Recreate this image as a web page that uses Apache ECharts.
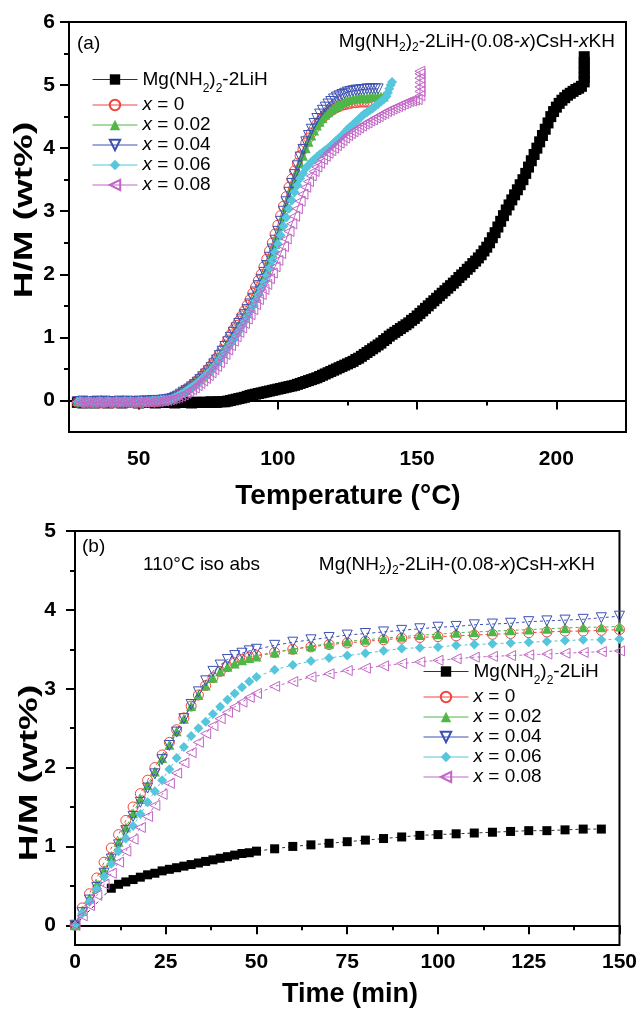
<!DOCTYPE html>
<html><head><meta charset="utf-8">
<script src="https://cdn.jsdelivr.net/npm/echarts@6/dist/echarts.min.js"></script>
<style>html,body{margin:0;padding:0;background:#fff}#c{width:640px;height:1010px}</style>
</head><body><div id="c"></div>
<script>
// ---------- Panel (a): temperature-programmed absorption (H/M wt% vs T, 1 °C grid) ----------
const tempA = [28,29,30,31,32,33,34,35,36,37,38,39,40,41,42,43,44,45,46,47,48,49,50,51,52,53,54,55,56,57,58,59,60,
 61,62,63,64,65,66,67,68,69,70,71,72,73,74,75,76,77,78,79,80,81,82,83,84,85,86,87,88,89,90,
 91,92,93,94,95,96,97,98,99,100,101,102,103,104,105,106,107,108,109,110,111,112,113,114,115,116,117,118,119,120,
 121,122,123,124,125,126,127,128,129,130,131,132,133,134,135,136,137,138,139,140,141,142,143,144,145,146,147,148,149,150,
 151,152,153,154,155,156,157,158,159,160,161,162,163,164,165,166,167,168,169,170,171,172,173,174,175,176,177,178,179,180,
 181,182,183,184,185,186,187,188,189,190,191,192,193,194,195,196,197,198,199,200,201,202,203,204,205,206,207,208,209,210];

const a_base = [-0.03,-0.03,-0.04,-0.03,-0.03,-0.03,-0.04,-0.03,-0.03,-0.03,-0.03,-0.04,-0.03,-0.03,-0.03,-0.03,-0.04,-0.03,-0.03,-0.03,-0.03,-0.03,-0.04,-0.03,-0.03,-0.03,-0.03,-0.03,-0.04,-0.03,-0.03,-0.03,-0.03,
 -0.03,-0.03,-0.04,-0.03,-0.03,-0.03,-0.03,-0.03,-0.04,-0.03,-0.03,-0.03,-0.03,-0.03,-0.03,-0.02,-0.03,-0.03,-0.02,-0.02,
 -0.02,-0.01,0,0.01,0.02,0.03,0.04,0.05,0.065,0.08,0.09,0.1,0.11,0.12,0.13,0.14,0.15,0.16,0.17,0.18,0.19,0.2,0.21,0.22,0.23,0.24,0.255,0.27,0.285,0.3,
 0.315,0.33,0.345,0.36,0.38,0.4,0.42,0.44,0.46,0.48,0.5,0.52,0.54,0.56,0.58,0.6,0.62,0.65,0.67,0.7,0.73,0.76,0.79,0.82,0.85,0.88,0.91,0.95,0.98,1.02,
 1.05,1.08,1.11,1.14,1.17,1.2,1.23,1.27,1.3,1.34,1.38,1.42,1.46,1.5,1.54,1.58,1.62,1.66,1.7,1.74,1.78,1.82,1.86,1.9,1.95,1.99,2.03,2.08,2.12,2.17,
 2.21,2.26,2.31,2.37,2.43,2.5,2.58,2.66,2.75,2.84,2.93,3.02,3.1,3.18,3.26,3.34,3.42,3.5,3.6,3.7,3.8,3.9,4.0,4.1,4.2,4.3,4.4,4.5,4.58,4.65,
 4.71,4.76,4.8,4.84,4.87,4.9,4.93,4.95,4.98];
const a_baseTail = [[210,5.05],[210,5.12],[210,5.2],[210,5.28],[210,5.36],[210,5.45]];

const a_x0 = [-0.03,-0.02,-0.03,-0.04,-0.03,-0.03,-0.02,-0.03,-0.04,-0.04,-0.03,-0.02,-0.03,-0.04,-0.03,-0.03,-0.02,-0.02,-0.03,-0.03,-0.02,-0.03,-0.04,-0.03,-0.02,-0.02,-0.02,-0.01,-0.02,-0.01,0,0,0.01,
 0.02,0.04,0.06,0.08,0.11,0.14,0.17,0.2,0.235,0.27,0.31,0.35,0.395,0.44,0.495,0.55,0.61,0.67,0.735,0.8,0.88,0.96,1.04,1.12,1.19,1.26,1.34,1.42,1.51,1.6,
 1.7,1.8,1.9,2.0,2.12,2.24,2.37,2.5,2.64,2.78,2.93,3.08,3.23,3.38,3.51,3.64,3.76,3.88,3.98,4.08,4.16,4.24,4.31,4.38,4.43,4.48,4.52,4.56,4.59,4.62,
 4.64,4.66,4.68,4.69,4.7,4.71,4.72,4.72,4.73,4.73,4.73,4.73,4.73,4.73];
const a_x002 = [-0.01,-0.02,-0.02,-0.01,-0.02,-0.02,-0.01,-0.02,-0.01,-0.02,-0.02,-0.01,-0.01,-0.02,-0.02,-0.01,-0.02,-0.01,-0.02,-0.01,-0.01,-0.02,-0.02,-0.01,-0.01,0,-0.01,0,0,0.01,0.01,0.01,0.02,
 0.03,0.04,0.065,0.09,0.12,0.15,0.18,0.21,0.245,0.28,0.315,0.35,0.39,0.43,0.48,0.53,0.585,0.64,0.7,0.76,0.83,0.9,0.97,1.04,1.11,1.18,1.25,1.32,1.4,1.48,
 1.57,1.66,1.76,1.86,1.97,2.08,2.21,2.34,2.48,2.62,2.77,2.92,3.07,3.22,3.36,3.5,3.63,3.76,3.88,4.0,4.1,4.2,4.28,4.36,4.42,4.48,4.53,4.57,4.61,4.64,
 4.67,4.7,4.72,4.74,4.76,4.77,4.78,4.79,4.8,4.8,4.8,4.8,4.81,4.81,4.81,4.81,4.82,4.82];
const a_x004 = [-0.02,-0.02,-0.01,-0.02,-0.02,-0.03,-0.02,-0.01,-0.02,-0.02,-0.01,-0.02,-0.03,-0.02,-0.02,-0.01,-0.02,-0.02,-0.01,-0.02,-0.02,-0.02,-0.01,-0.02,-0.01,-0.01,-0.01,0,0,0,0,0.01,0.01,
 0.02,0.03,0.05,0.07,0.1,0.13,0.155,0.18,0.215,0.25,0.29,0.33,0.375,0.42,0.47,0.52,0.58,0.64,0.71,0.78,0.855,0.93,1.0,1.08,1.15,1.22,1.29,1.36,1.44,1.53,
 1.62,1.72,1.82,1.92,2.03,2.14,2.27,2.4,2.54,2.68,2.84,3.0,3.15,3.3,3.44,3.58,3.72,3.86,3.98,4.1,4.2,4.3,4.39,4.47,4.54,4.6,4.65,4.7,4.74,4.78,
 4.81,4.83,4.85,4.87,4.89,4.9,4.91,4.92,4.92,4.93,4.93,4.94,4.94,4.94,4.94,4.94];
const a_x006 = [-0.02,-0.01,-0.02,-0.02,-0.01,-0.02,-0.02,-0.02,-0.01,-0.02,-0.02,-0.01,-0.02,-0.02,-0.01,-0.02,-0.02,-0.01,-0.02,-0.01,-0.02,-0.02,-0.01,-0.01,-0.02,-0.01,-0.01,0,0,0,0.01,0.01,0.01,
 0.015,0.03,0.05,0.07,0.095,0.12,0.15,0.18,0.21,0.24,0.275,0.31,0.35,0.39,0.435,0.48,0.53,0.58,0.64,0.7,0.765,0.83,0.895,0.96,1.03,1.1,1.175,1.25,1.33,1.41,
 1.495,1.58,1.675,1.77,1.87,1.98,2.1,2.22,2.35,2.48,2.62,2.76,2.9,3.04,3.17,3.3,3.41,3.52,3.6,3.68,3.73,3.78,3.82,3.86,3.9,3.93,3.965,4.0,4.04,4.08,
 4.12,4.16,4.2,4.25,4.3,4.34,4.38,4.42,4.46,4.5,4.54,4.57,4.6,4.63,4.67,4.7,4.74,4.77];
const a_x006Tail = [[139,4.82],[139.5,4.88],[140,4.94],[140.5,5.0],[141,5.05]];
const a_x008 = [-0.03,-0.04,-0.03,-0.03,-0.04,-0.04,-0.03,-0.03,-0.04,-0.03,-0.03,-0.04,-0.04,-0.03,-0.03,-0.04,-0.03,-0.03,-0.04,-0.04,-0.03,-0.03,-0.04,-0.03,-0.03,-0.02,-0.03,-0.02,-0.02,-0.02,-0.01,-0.01,0,
 0.01,0.02,0.035,0.05,0.07,0.09,0.115,0.14,0.17,0.2,0.235,0.27,0.31,0.35,0.395,0.44,0.49,0.54,0.6,0.66,0.73,0.8,0.87,0.94,1.01,1.08,1.15,1.22,1.29,1.36,
 1.44,1.52,1.6,1.68,1.76,1.84,1.93,2.02,2.12,2.22,2.33,2.44,2.56,2.68,2.8,2.92,3.04,3.16,3.27,3.38,3.47,3.56,3.63,3.7,3.76,3.82,3.87,3.92,3.96,4.0,
 4.04,4.08,4.12,4.16,4.2,4.23,4.26,4.29,4.32,4.35,4.38,4.4,4.43,4.45,4.48,4.5,4.53,4.55,4.58,4.6,4.62,4.64,4.66,4.68,4.7,4.72,4.74,4.75,4.76,4.77];
const a_x008Tail = [[151,4.83],[151,4.9],[151,4.97],[151,5.04],[151,5.11],[151,5.18],[151,5.22]];

// ---------- Panel (b): 110 °C isothermal absorption ----------
const timeB = [0,2,4,6,8,10,12,14,16,18,20,22,24,26,28,30,32,34,36,38,40,42,44,46,48,50,55,60,65,70,75,80,85,90,95,100,105,110,115,120,125,130,135,140,145,150];
const timeBbase = [0,10,12,14,16,18,20,22,24,26,28,30,32,34,36,38,40,42,44,46,48,50,55,60,65,70,75,80,85,90,95,100,105,110,115,120,125,130,135,140,145];
const b_base = [0,0.47,0.52,0.55,0.58,0.61,0.64,0.66,0.69,0.71,0.73,0.75,0.77,0.79,0.81,0.83,0.85,0.87,0.89,0.91,0.92,0.94,0.97,1.0,1.02,1.04,1.06,1.08,1.1,1.12,1.14,1.15,1.16,1.17,1.18,1.19,1.2,1.2,1.21,1.22,1.22];
const b_x0 = [0,0.22,0.4,0.6,0.8,0.98,1.15,1.33,1.5,1.67,1.84,2.0,2.16,2.32,2.48,2.63,2.78,2.92,3.04,3.14,3.22,3.28,3.33,3.37,3.4,3.42,3.46,3.5,3.53,3.56,3.58,3.6,3.62,3.64,3.65,3.66,3.67,3.68,3.69,3.7,3.71,3.72,3.73,3.73,3.74,3.75];
const b_x002 = [0,0.18,0.34,0.52,0.7,0.88,1.06,1.24,1.42,1.6,1.78,1.95,2.12,2.29,2.46,2.62,2.78,2.92,3.04,3.14,3.22,3.28,3.32,3.36,3.39,3.41,3.46,3.5,3.54,3.57,3.6,3.62,3.64,3.66,3.68,3.69,3.71,3.72,3.73,3.74,3.75,3.76,3.77,3.78,3.78,3.79];
const b_x004 = [0,0.16,0.32,0.48,0.66,0.84,1.02,1.2,1.38,1.56,1.74,1.92,2.1,2.28,2.45,2.62,2.8,2.96,3.1,3.22,3.3,3.37,3.42,3.45,3.48,3.5,3.55,3.59,3.62,3.65,3.68,3.7,3.72,3.74,3.76,3.78,3.79,3.81,3.82,3.83,3.85,3.86,3.87,3.88,3.9,3.92];
const b_x006 = [0,0.15,0.3,0.46,0.62,0.78,0.94,1.1,1.26,1.41,1.56,1.7,1.84,1.98,2.12,2.26,2.4,2.5,2.58,2.68,2.77,2.86,2.94,3.02,3.09,3.15,3.24,3.3,3.35,3.39,3.42,3.45,3.48,3.51,3.52,3.53,3.55,3.56,3.57,3.58,3.59,3.6,3.61,3.62,3.62,3.63];
const b_x008 = [0,0.12,0.25,0.38,0.52,0.66,0.8,0.94,1.09,1.24,1.38,1.52,1.66,1.8,1.93,2.06,2.19,2.32,2.43,2.53,2.62,2.7,2.77,2.83,2.89,2.94,3.03,3.09,3.15,3.19,3.23,3.26,3.29,3.32,3.34,3.36,3.38,3.4,3.41,3.42,3.43,3.44,3.45,3.46,3.47,3.48];

// ---------- tick values ----------
const ticksAx = [50,100,150,200], minorAx = [25,75,125,175,225];
const ticksAy = [0,1,2,3,4,5,6], minorAy = [0.5,1.5,2.5,3.5,4.5,5.5];
const ticksBx = [0,25,50,75,100,125,150], minorBx = [12.5,37.5,62.5,87.5,112.5,137.5];
const ticksBy = [0,1,2,3,4,5], minorBy = [0.5,1.5,2.5,3.5,4.5];

const seriesNames = ['Mg(NH2)2-2LiH','x = 0','x = 0.02','x = 0.04','x = 0.06','x = 0.08'];

const F = "'Liberation Sans', Arial, sans-serif";
const COL = ['#000000','#f0453f','#4fb648','#3d50b2','#55c6dc','#c265c6'];
const SYM = ['rect','circle','triangle','path://M0,0L10,0L5,10Z','diamond','path://M0,5L10,0L10,10Z'];
const HOLLOW = [false,true,false,true,false,true];

function zip(xs, ys){ return ys.map((y,i)=>[xs[i], y]); }

const dataA = [
  zip(tempA,a_base).concat(a_baseTail),
  zip(tempA,a_x0),
  zip(tempA,a_x002),
  zip(tempA,a_x004),
  zip(tempA,a_x006).concat(a_x006Tail),
  zip(tempA,a_x008).concat(a_x008Tail)
];
const dataB = [zip(timeBbase,b_base), zip(timeB,b_x0), zip(timeB,b_x002), zip(timeB,b_x004), zip(timeB,b_x006), zip(timeB,b_x008)];

function mkSeries(data, k, gi, dashed, size, baseSize){
  return {
    type:'line', name: seriesNames[k], xAxisIndex: gi*2, yAxisIndex: gi*2, data,
    symbol: SYM[k], symbolSize: k===0 ? baseSize : size,
    lineStyle: {color: k===0 ? '#333' : COL[k], width: 1, type: dashed ? [3,3] : 'solid'},
    itemStyle: HOLLOW[k] ? {color:'rgba(255,255,255,0)', borderColor: COL[k], borderWidth: 1} : {color: COL[k], borderWidth: 0},
    emphasis: {disabled: true}, animation: false, z: 2 + k
  };
}
const series = [];
for (let k=0;k<6;k++) series.push(mkSeries(dataA[k], k, 0, false, 10, 11));
for (let k=0;k<6;k++) series.push(mkSeries(dataB[k], k, 1, true, 10, 9));

const axLine = {show:true, lineStyle:{color:'#000', width:2}};
const lbl = {fontFamily:F, fontWeight:'bold', fontSize:21, color:'#000'};
function xAxes(gi, min, max, major, minor, margin){
  return [
    {gridIndex:gi, type:'value', min, max, position:'bottom', axisLine: axLine, splitLine:{show:false},
     axisTick:{show:true, customValues: major, length:9, lineStyle:{width:2,color:'#000'}},
     axisLabel: Object.assign({customValues: major, margin}, lbl)},
    {gridIndex:gi, type:'value', min, max, position:'bottom', offset:0, axisLine:{show:false}, splitLine:{show:false},
     axisTick:{show:true, customValues: minor, length:5, lineStyle:{width:2,color:'#000'}},
     axisLabel:{show:false}}
  ];
}
function yAxes(gi, min, max, major, minor, margin){
  return [
    {gridIndex:gi, type:'value', min, max, position:'left', axisLine: axLine, splitLine:{show:false},
     axisTick:{show:true, customValues: major, length:9, lineStyle:{width:2,color:'#000'}},
     axisLabel: Object.assign({customValues: major, margin}, lbl)},
    {gridIndex:gi, type:'value', min, max, position:'left', offset:0, axisLine:{show:false}, splitLine:{show:false},
     axisTick:{show:true, customValues: minor, length:5, lineStyle:{width:2,color:'#000'}},
     axisLabel:{show:false}}
  ];
}

const rich = {
  n:{fontFamily:F, fontSize:19, color:'#000', lineHeight:24},
  i:{fontFamily:F, fontSize:19, color:'#000', lineHeight:24, fontStyle:'italic'},
  s:{fontFamily:F, fontSize:12, color:'#000', lineHeight:12, verticalAlign:'bottom'},
  n0:{fontFamily:F, fontSize:19, color:'#000', lineHeight:30},
  s0:{fontFamily:F, fontSize:12, color:'#000', lineHeight:18, verticalAlign:'bottom'}
};
function legendFmt(name){
  if (name === seriesNames[0]) return '{n0|Mg(NH}{s0|2}{n0|)}{s0|2}{n0|-2LiH}';
  return '{i|x}{n|' + name.slice(1) + '}';
}
function mkLegend(left, top){
  return {orient:'vertical', left, top, data: seriesNames, itemWidth:45, itemHeight:13, itemGap:1,
    selectedMode:false, formatter: legendFmt, lineStyle:{type:'solid', width:1},
    textStyle:{fontFamily:F, fontSize:19, color:'#000', rich}};
}
const compTitle = '{n|Mg(NH}{s|2}{n|)}{s|2}{n|-2LiH-(0.08-}{i|x}{n|)CsH-}{i|x}{n|KH}';
function mkTitle(text, pos){
  return Object.assign({text, textStyle:{fontFamily:F, fontSize:19, fontWeight:'normal', color:'#000', lineHeight:24, rich}, padding:0}, pos);
}

const option = {
  animation:false,
  backgroundColor:'#fff',
  grid:[
    {left:69, right:14, top:22, height:410, show:true, borderColor:'#000', borderWidth:2, containLabel:false},
    {left:75, right:16, top:531, height:414, show:true, borderColor:'#000', borderWidth:2, containLabel:false}
  ],
  xAxis: xAxes(0, 25, 225, ticksAx, minorAx, 17).concat(xAxes(1, 0, 150, ticksBx, minorBx, 7)),
  yAxis: yAxes(0, -0.5, 6, ticksAy, minorAy, 14).concat(yAxes(1, -0.25, 5, ticksBy, minorBy, 19)),
  legend:[mkLegend(87, 65), mkLegend(418, 657)],
  title:[
    mkTitle('{n|(a)}', {left:77, top:32}),
    mkTitle(compTitle, {right:25, top:30}),
    mkTitle('{n|(b)}', {left:82, top:535}),
    mkTitle('{n|110°C iso abs}', {left:143, top:553}),
    mkTitle(compTitle, {right:45, top:553})
  ],
  graphic:[
    {type:'text', x:25, y:210, rotation:Math.PI/2, scaleX:1.42, style:{text:'H/M (wt%)', font:"bold 26px 'Liberation Sans', Arial", fill:'#000', align:'center', verticalAlign:'middle'}},
    {type:'text', x:30, y:773, rotation:Math.PI/2, scaleX:1.42, style:{text:'H/M (wt%)', font:"bold 26px 'Liberation Sans', Arial", fill:'#000', align:'center', verticalAlign:'middle'}},
    {type:'text', x:348, y:496, style:{text:'Temperature (°C)', font:"bold 28px 'Liberation Sans', Arial", fill:'#000', align:'center', verticalAlign:'middle'}},
    {type:'text', x:350, y:995, style:{text:'Time (min)', font:"bold 27px 'Liberation Sans', Arial", fill:'#000', align:'center', verticalAlign:'middle'}}
  ],
  series
};
const chart = echarts.init(document.getElementById('c'), null, {renderer:'canvas'});
chart.setOption(option);
</script>
</body></html>
